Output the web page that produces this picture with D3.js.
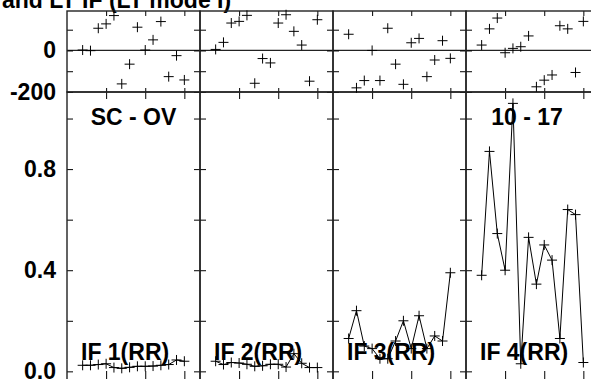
<!DOCTYPE html>
<html>
<head>
<meta charset="utf-8">
<script src="https://cdn.jsdelivr.net/npm/d3@7"></script>
<style>
  body { margin: 0; background: #fff; }
  svg { display: block; }
  text { font-family: "Liberation Sans", Arial, sans-serif; font-weight: bold; }
</style>
</head>
<body>
<div id="chart"></div>
<script>
// lags shown in every panel
const lags = [2, 3, 4, 5, 6, 7, 8, 9, 10, 11, 12, 13, 14, 15];

// upper row: SC - OV values, one array per panel
const scov1 = [2, -1, 107, 128, 168, -161, -66, 112, 2, 51, 139, -126, -25, -142];
const scov2 = [5, 39, 132, 140, 169, -158, -39, -60, 132, 172, 92, 26, -148, 148];
const scov3 = [78, -180, -145, 0, -145, 107, -66, -163, 37, 58, -126, -46, 47, -38];
const scov4 = [26, 104, 156, -11, 10, 18, 70, -175, -143, -118, 119, 104, -106, 140];

// lower row: IF (RR) values
const if1 = [0.024, 0.024, 0.027, 0.03, 0.015, 0.012, 0.016, 0.02, 0.02, 0.021, 0.024, 0.027, 0.045, 0.04];
const if2 = [0.04, 0.027, 0.035, 0.033, 0.028, 0.02, 0.022, 0.028, 0.028, 0.017, 0.07, 0.032, 0.015, 0.015];
const if3 = [0.13, 0.24, 0.10, 0.09, 0.05, 0.05, 0.12, 0.20, 0.09, 0.22, 0.09, 0.14, 0.12, 0.39];
const if4 = [0.38, 0.87, 0.545, 0.40, 1.06, 0.03, 0.53, 0.345, 0.50, 0.44, 0.13, 0.64, 0.62, 0.035];

const topSeries = [scov1, scov2, scov3, scov4];
const botSeries = [if1, if2, if3, if4];
const ifLabels = ['IF 1(RR)', 'IF 2(RR)', 'IF 3(RR)', 'IF 4(RR)'];
const cornerLabels = ['SC - OV', '', '', '10 - 17'];

const topTicks = [-200, -100, 0, 100];
const botTicks = [0, 0.2, 0.4, 0.6, 0.8, 1.0];
const xTicks = [5, 10, 15];

// layout
const width = 591, height = 379;
const left = 67, panelW = 133;
const topBox = {top: 11, bottom: 92};
const botBox = {top: 92, bottom: 384};
const fontSize = 23;

const svg = d3.select('#chart')
    .append('svg')
    .attr('width', width)
    .attr('height', height);

// title (only its lower part is inside the picture)
svg.append('text')
    .attr('x', 2)
    .attr('y', 8)
    .style('font-size', fontSize + 'px')
    .text('and LT IF (LT mode I)');

const yTop = d3.scaleLinear().domain([-200, 190]).range([topBox.bottom, topBox.top]);
const yBot = d3.scaleLinear().domain([-0.05, 1.105]).range([botBox.bottom, botBox.top]);

const crossPath = 'M-5,0H5M0,-5V5';

function styleAxis(g) {
    g.select('.domain').remove();
    g.attr('font-size', fontSize)
        .attr('font-family', '"Liberation Sans", Arial, sans-serif')
        .attr('font-weight', 'bold');
    g.selectAll('.tick line').attr('stroke', '#000');
}

topSeries.forEach(function (series, i) {
    const x0 = left + i * panelW;
    const x = d3.scaleLinear().domain([0, 17]).range([x0, x0 + panelW]);
    const g = svg.append('g');

    // zero line in upper panel
    g.append('line')
        .attr('x1', x0).attr('x2', x0 + panelW)
        .attr('y1', yTop(0)).attr('y2', yTop(0))
        .attr('stroke', '#222')
        .attr('stroke-width', 1.2);

    // x ticks
    g.append('g').attr('transform', `translate(0,${topBox.top})`)
        .call(d3.axisTop(x).tickValues(xTicks).tickSize(-5).tickFormat(''))
        .call(styleAxis);
    g.append('g').attr('transform', `translate(0,${topBox.bottom})`)
        .call(d3.axisBottom(x).tickValues(xTicks).tickSize(-4).tickFormat(''))
        .call(styleAxis);
    g.append('g').attr('transform', `translate(0,${botBox.top})`)
        .call(d3.axisTop(x).tickValues(xTicks).tickSize(-7).tickFormat(''))
        .call(styleAxis);
    g.append('g').attr('transform', `translate(0,${botBox.bottom})`)
        .call(d3.axisBottom(x).tickValues(xTicks).tickSize(-13).tickFormat(''))
        .call(styleAxis);

    // y ticks, labels only on the first panel
    g.append('g').attr('transform', `translate(${x0},0)`)
        .call(d3.axisLeft(yTop).tickValues(topTicks).tickSize(-6).tickPadding(11)
            .tickFormat(d => (i === 0 && d % 200 === 0) ? d : ''))
        .call(styleAxis);
    g.append('g').attr('transform', `translate(${x0 + panelW},0)`)
        .call(d3.axisRight(yTop).tickValues(topTicks).tickSize(-6).tickFormat(''))
        .call(styleAxis);
    g.append('g').attr('transform', `translate(${x0},0)`)
        .call(d3.axisLeft(yBot).tickValues(botTicks).tickSize(-6).tickPadding(11)
            .tickFormat(d => (i === 0 && Math.round(d * 10) % 4 === 0) ? d3.format('.1f')(d) : ''))
        .call(styleAxis);
    g.append('g').attr('transform', `translate(${x0 + panelW},0)`)
        .call(d3.axisRight(yBot).tickValues(botTicks).tickSize(-6).tickFormat(''))
        .call(styleAxis);

    // frames
    g.append('rect')
        .attr('x', x0).attr('y', topBox.top)
        .attr('width', panelW).attr('height', topBox.bottom - topBox.top)
        .attr('fill', 'none').attr('stroke', '#222').attr('stroke-width', 1.4);
    g.append('rect')
        .attr('x', x0).attr('y', botBox.top)
        .attr('width', panelW).attr('height', botBox.bottom - botBox.top)
        .attr('fill', 'none').attr('stroke', '#222').attr('stroke-width', 1.4);

    // upper scatter of crosses
    g.append('g').selectAll('path')
        .data(series.map((v, k) => [lags[k], v]))
        .enter()
        .append('path')
        .attr('transform', d => `translate(${x(d[0])},${yTop(d[1])})`)
        .attr('d', crossPath)
        .attr('stroke', '#000')
        .attr('stroke-width', 1)
        .attr('fill', 'none');

    // lower line + crosses
    const bot = botSeries[i].map((v, k) => [lags[k], v]);
    g.append('path')
        .datum(bot)
        .attr('fill', 'none')
        .attr('stroke', '#000')
        .attr('stroke-width', 1)
        .attr('d', d3.line().x(d => x(d[0])).y(d => yBot(d[1])));

    g.append('g').selectAll('path')
        .data(bot)
        .enter()
        .append('path')
        .attr('transform', d => `translate(${x(d[0])},${yBot(d[1])})`)
        .attr('d', crossPath)
        .attr('stroke', '#000')
        .attr('stroke-width', 1)
        .attr('fill', 'none');

    // panel labels
    g.append('text')
        .attr('x', x0 + 14)
        .attr('y', 360)
        .style('font-size', fontSize + 'px')
        .text(ifLabels[i]);

    if (cornerLabels[i]) {
        g.append('text')
            .attr('x', i === 0 ? x0 + panelW / 2 : x0 + 61)
            .attr('y', 125)
            .attr('text-anchor', 'middle')
            .style('font-size', fontSize + 'px')
            .text(cornerLabels[i]);
    }
});
</script>
</body>
</html>
